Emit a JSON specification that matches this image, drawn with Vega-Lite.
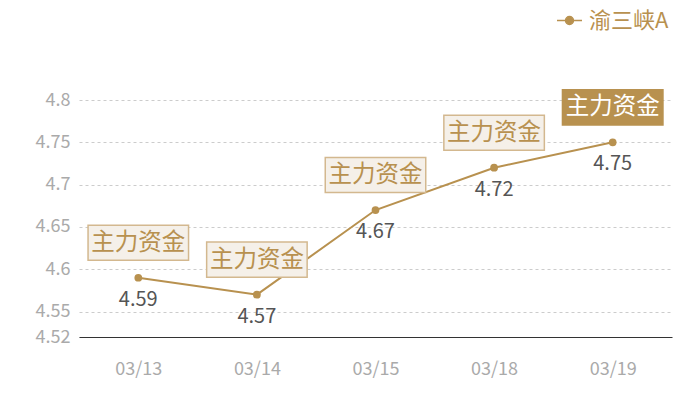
{
  "$schema": "https://vega.github.io/schema/vega-lite/v6.json",
  "autosize": "none",
  "padding": {"left": 79, "top": 100, "right": 28, "bottom": 63},
  "width": 593,
  "height": 237,
  "config": {
    "view": {"stroke": null},
    "font": "Noto Sans CJK SC"
  },
  "data": {
    "values": [
      {"date": "03/13", "price": 4.59, "name": "渝三峡A", "tag": "主力资金"},
      {"date": "03/14", "price": 4.57, "name": "渝三峡A", "tag": "主力资金"},
      {"date": "03/15", "price": 4.67, "name": "渝三峡A", "tag": "主力资金"},
      {"date": "03/18", "price": 4.72, "name": "渝三峡A", "tag": "主力资金"},
      {"date": "03/19", "price": 4.75, "name": "渝三峡A", "tag": "主力资金"}
    ]
  },
  "encoding": {
    "x": {
      "field": "date",
      "type": "ordinal",
      "scale": {"paddingInner": 0, "paddingOuter": 0},
      "axis": {
        "title": null,
        "labelAngle": 0,
        "labelColor": "#aaaaaa",
        "labelFontSize": 18,
        "labelPadding": 23,
        "ticks": false,
        "domainColor": "#333333",
        "domainWidth": 1
      }
    },
    "y": {
      "field": "price",
      "type": "quantitative",
      "scale": {"domain": [4.52, 4.8], "nice": false, "zero": false},
      "axis": {
        "title": null,
        "values": [4.52, 4.55, 4.6, 4.65, 4.7, 4.75, 4.8],
        "format": "~g",
        "labelColor": "#aaaaaa",
        "labelFontSize": 18,
        "labelPadding": 9,
        "ticks": false,
        "domain": false,
        "gridColor": "#cccccc",
        "gridDash": [3, 3],
        "gridWidth": 1
      }
    }
  },
  "layer": [
    {
      "mark": {"type": "line", "strokeWidth": 2},
      "encoding": {
        "color": {
          "field": "name",
          "type": "nominal",
          "scale": {"range": ["#b8914f"]},
          "legend": {
            "title": null,
            "orient": "none",
            "legendX": 477,
            "legendY": -93,
            "symbolType": "M-1,0H1M0.32,0A0.32,0.32 0 1,1 -0.32,0A0.32,0.32 0 1,1 0.32,0Z",
            "symbolSize": 625,
            "symbolFillColor": "#b8914f",
            "symbolStrokeColor": "#b8914f",
            "symbolStrokeWidth": 1.5,
            "labelFontSize": 22,
            "labelColor": "#b8914f",
            "labelOffset": 6
          }
        }
      }
    },
    {
      "mark": {"type": "point", "filled": true, "size": 60, "opacity": 1, "color": "#b8914f"}
    },
    {
      "mark": {
        "type": "point",
        "shape": "M-1,-0.35H1V0.35H-1Z",
        "size": 10100,
        "yOffset": -35,
        "opacity": 1,
        "strokeWidth": 1.5
      },
      "encoding": {
        "fill": {
          "condition": {"test": "datum.date === '03/19'", "value": "#b8914f"},
          "value": "#f5f0e9"
        },
        "stroke": {
          "condition": {"test": "datum.date === '03/19'", "value": "#b8914f"},
          "value": "#d3b88f"
        }
      }
    },
    {
      "mark": {"type": "text", "fontSize": 23.5, "yOffset": -35, "baseline": "middle"},
      "encoding": {
        "text": {"field": "tag"},
        "color": {
          "condition": {"test": "datum.date === '03/19'", "value": "#ffffff"},
          "value": "#b8914f"
        }
      }
    },
    {
      "mark": {"type": "text", "fontSize": 20, "yOffset": 22, "baseline": "middle", "color": "#555555"},
      "encoding": {
        "text": {"field": "price", "type": "quantitative", "format": ".2f"}
      }
    }
  ]
}
